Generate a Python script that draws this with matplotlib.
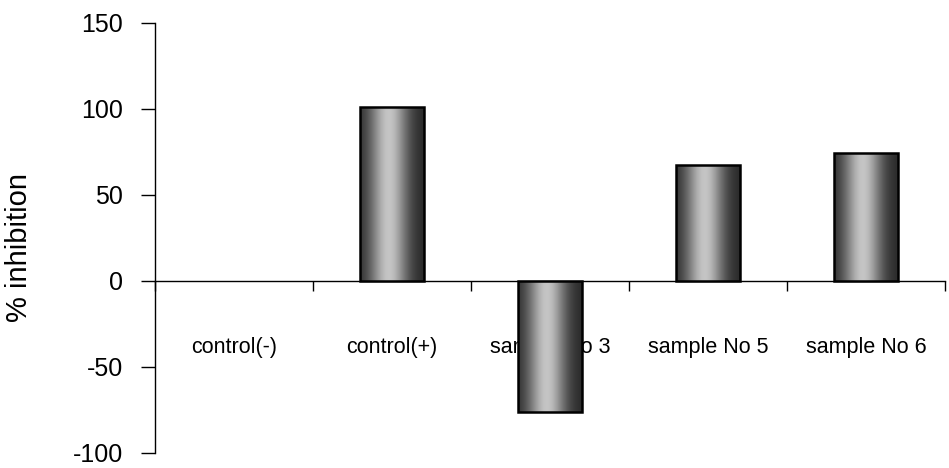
import matplotlib
matplotlib.use("Agg")
import matplotlib.pyplot as plt
import numpy as np

categories = ["control(-)", "control(+)", "sample No 3", "sample No 5", "sample No 6"]
values = [0, 101, -76, 67.5, 74.5]
yticks = [-100, -50, 0, 50, 100, 150]

plt.rcParams['font.family'] = ['Liberation Sans', 'DejaVu Sans']

fig = plt.figure(figsize=(9.49, 4.68), dpi=100)
ax = fig.add_axes([155/949, 1-453/468, 790/949, 430/468])
ax.set_axisbelow(True)

x = np.arange(len(categories))
bars = ax.bar(x, values, width=0.405, color='#999999', linewidth=0, zorder=3)

# gradient fill clipped to each bar (dark edges, light centre)
g = np.linspace(0, 1, 200)
shade = 0.15 + 0.62 * np.exp(-((g - 0.45) / 0.30) ** 2)
grad = np.tile(shade, (2, 1))
for b in bars:
    if b.get_height() == 0:
        b.set_visible(False)
        continue
    x0, y0 = b.get_x(), b.get_y()
    w, h = b.get_width(), b.get_height()
    im = ax.imshow(grad, cmap='gray', vmin=0, vmax=1, aspect='auto',
                   extent=[x0, x0 + w, min(y0, y0 + h), max(y0, y0 + h)],
                   zorder=3.5, interpolation='bilinear')
    im.set_clip_path(b)
    ax.add_patch(plt.Rectangle((x0, y0), w, h, fill=False, edgecolor='black',
                               linewidth=1.8, zorder=4))

ax.set_xlim(-0.5, len(categories) - 0.5)
ax.set_ylim(-100, 150)
ax.set_yticks(yticks)
ax.set_yticklabels([str(t) for t in yticks], fontsize=18)
ax.tick_params(axis='y', direction='out', length=10, width=1, pad=13)

ax.spines['top'].set_visible(False)
ax.spines['right'].set_visible(False)
ax.spines['bottom'].set_position(('data', 0))
ax.spines['bottom'].set_linewidth(1)
ax.spines['left'].set_linewidth(1)

ax.set_xticks(np.arange(len(categories) + 1) - 0.5)
ax.set_xticklabels([])
ax.tick_params(axis='x', which='major', direction='out', length=7, width=1)
ax.set_xticks(x, minor=True)
ax.set_xticklabels(categories, minor=True, fontsize=15.5)
ax.tick_params(axis='x', which='minor', length=0, pad=40)

ax.set_ylabel('% inhibition', fontsize=21)
ax.yaxis.set_label_coords(-0.1544, 0.477)

fig.savefig('out.png', dpi=100)
